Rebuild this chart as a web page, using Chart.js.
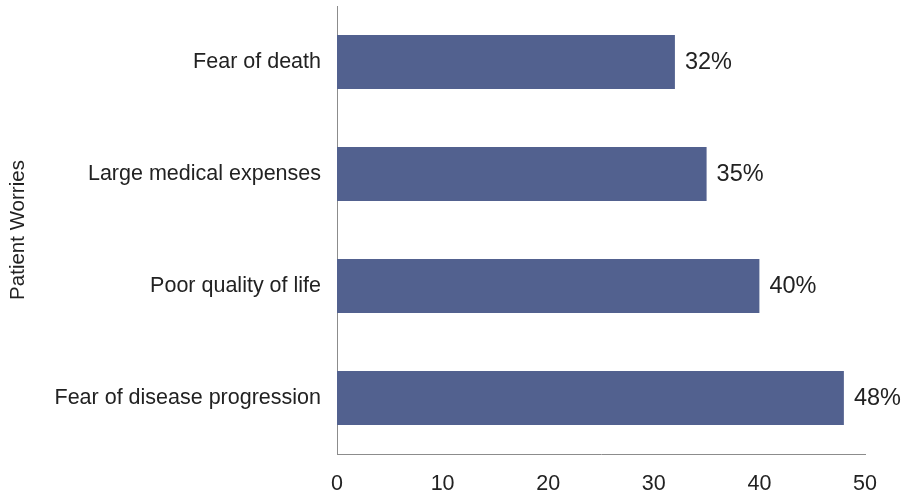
<!DOCTYPE html>
<html>
<head>
<meta charset="utf-8">
<script src="https://cdn.jsdelivr.net/npm/chart.js@4/dist/chart.umd.min.js"></script>
<style>
  html, body { margin: 0; padding: 0; background: #ffffff; }
  #wrap { width: 904px; height: 497px; position: relative; }
</style>
</head>
<body>
<div id="wrap"><canvas id="c" width="904" height="497"></canvas></div>
<script>
const categories = ["Fear of death", "Large medical expenses", "Poor quality of life", "Fear of disease progression"];
const values = [32, 35, 40, 48];
const valueLabels = ["32%", "35%", "40%", "48%"];
const xTicks = [0, 10, 20, 30, 40, 50];
const yTitle = "Patient Worries";

const FONT = "'Liberation Sans', Arial, Helvetica, sans-serif";
const TEXT = "#222222";
const AXIS = "#8c8c8c";

const dataLabelPlugin = {
  id: 'dataLabels',
  afterDatasetsDraw(chart) {
    const ctx = chart.ctx;
    const meta = chart.getDatasetMeta(0);
    ctx.save();
    ctx.font = "23.5px " + FONT;
    ctx.fillStyle = TEXT;
    ctx.textAlign = 'left';
    ctx.textBaseline = 'middle';
    meta.data.forEach((bar, i) => {
      ctx.fillText(valueLabels[i], bar.x + 10, bar.y + 1);
    });
    ctx.restore();
  }
};

new Chart(document.getElementById('c'), {
  type: 'bar',
  data: {
    labels: categories,
    datasets: [{
      data: values,
      backgroundColor: '#52618f',
      borderWidth: 0,
      barPercentage: 0.48,
      categoryPercentage: 1.0
    }]
  },
  options: {
    indexAxis: 'y',
    responsive: false,
    animation: false,
    devicePixelRatio: 1,
    layout: { padding: { top: 6, right: 39, left: 0, bottom: 0 } },
    plugins: { legend: { display: false }, tooltip: { enabled: false } },
    scales: {
      x: {
        type: 'linear',
        min: 0,
        max: 50,
        afterBuildTicks(scale) { scale.ticks = xTicks.map(v => ({ value: v })); },
        grid: { display: false, drawTicks: false },
        border: { display: true, color: AXIS, width: 1 },
        ticks: { color: TEXT, font: { family: FONT, size: 21.5 }, padding: 17, maxRotation: 0 },
        afterFit(scale) { scale.height = 497 - 454; scale.paddingLeft = 0; scale.paddingRight = 0; }
      },
      y: {
        grid: { display: false, drawTicks: false },
        border: { display: true, color: AXIS, width: 1 },
        ticks: { color: TEXT, font: { family: FONT, size: 21.5 }, padding: 16 },
        title: { display: true, text: yTitle, color: TEXT, font: { family: FONT, size: 20.5 }, padding: { top: 6, bottom: 0 } },
        afterFit(scale) { scale.width = 337; scale.paddingTop = 0; scale.paddingBottom = 0; }
      }
    }
  },
  plugins: [dataLabelPlugin]
});
</script>
</body>
</html>
